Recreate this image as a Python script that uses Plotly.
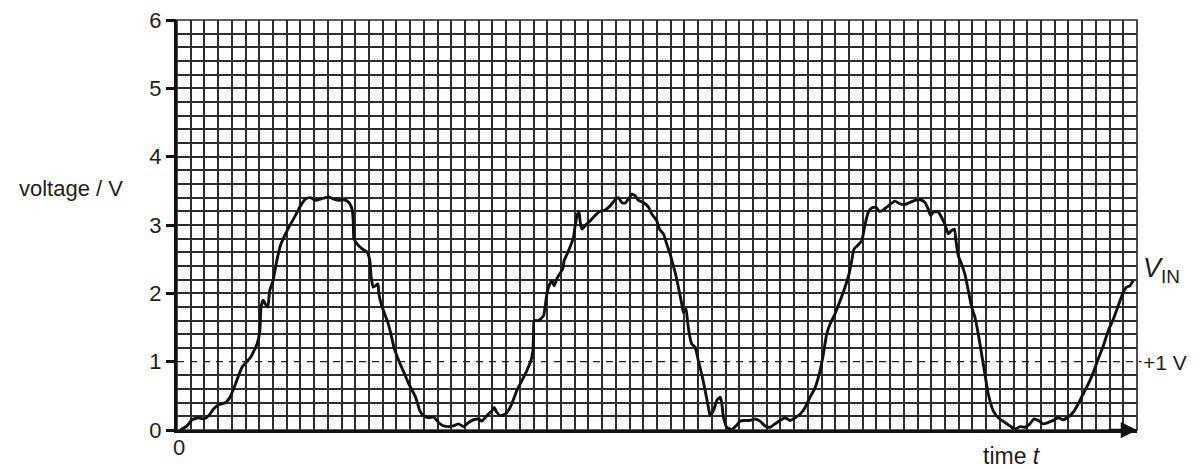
import plotly.graph_objects as go

# time in grid-square units (0..70), voltage in V
t = [0.24, 0.73, 1.09, 1.58, 1.95, 2.31, 2.68, 3.04, 3.53, 3.84, 4.26, 4.74, 5.35, 5.84, 6.03, 6.13, 6.28, 6.45, 6.62, 6.76,
     7.01, 7.25, 7.54, 7.91, 8.27, 8.64, 9.00, 9.37, 9.73, 10.10, 10.46, 10.83, 11.07, 11.44, 11.80, 12.17, 12.53, 12.77, 12.85, 12.90,
     13.14, 13.50, 13.87, 14.06, 14.16, 14.31, 14.48, 14.65, 14.72, 14.96, 15.33, 15.57, 15.82, 16.18, 16.55, 16.91, 17.40, 17.71,
     17.98, 18.34, 18.71, 19.07, 19.43, 19.80, 20.16, 20.53, 20.89, 21.26, 21.62, 21.99, 22.23, 22.59, 22.96, 23.13, 23.32, 23.56,
     23.93, 24.29, 24.54, 24.78, 25.14, 25.51, 25.80, 25.95, 26.00, 26.04, 26.36, 26.72, 26.84, 26.97, 27.09, 27.33, 27.50, 27.69,
     27.89, 28.13, 28.23, 28.54, 28.91, 29.03, 29.20, 29.32, 29.40, 29.52, 29.76, 30.12, 30.49, 30.85, 31.22, 31.58, 31.95, 32.19,
     32.43, 32.68, 32.92, 33.16, 33.40, 33.65, 34.01, 34.38, 34.62, 34.99, 35.18,
     35.47, 35.71, 35.95, 36.15, 36.32, 36.56, 36.81, 36.93, 37.12, 37.22, 37.36, 37.53, 37.78, 38.02, 38.26, 38.51, 38.75, 38.87,
     39.11, 39.36, 39.60, 39.72, 39.84, 40.09, 40.45, 40.77, 41.06, 41.42, 41.78, 42.15, 42.51, 42.88, 43.24, 43.61, 43.97, 44.34,
     44.70, 45.07, 45.43, 45.80, 46.16, 46.53, 46.89, 47.13, 47.37, 47.62, 47.98, 48.35, 48.71, 49.00, 49.20, 49.37, 49.68, 49.93,
     50.17, 50.41, 50.65, 50.97, 51.21, 51.50, 51.87,
     52.35, 52.72, 53.08, 53.45, 53.81, 54.18, 54.54, 54.78, 54.95, 55.15, 55.51, 55.75, 56.00, 56.24, 56.48, 56.68, 56.80, 56.97,
     57.21, 57.45, 57.70, 57.94, 58.18, 58.43, 58.67, 58.91, 59.15, 59.52, 59.89, 60.37, 60.74, 61.10, 61.46, 61.83, 62.19, 62.48,
     62.80, 63.16, 63.53, 63.89, 64.26, 64.62, 64.98, 65.35, 65.71, 66.08, 66.44, 66.81, 67.17, 67.54, 67.90, 68.27, 68.63, 68.99,
     69.24, 69.48, 69.73]

v_in = [0.00, 0.06, 0.15, 0.18, 0.16, 0.21, 0.31, 0.37, 0.40, 0.47, 0.67, 0.92, 1.06, 1.26, 1.43, 1.80, 1.90, 1.84, 1.80, 2.04,
        2.19, 2.45, 2.70, 2.87, 3.01, 3.14, 3.28, 3.38, 3.40, 3.36, 3.38, 3.40, 3.41, 3.38, 3.36, 3.37, 3.33, 3.23, 3.06, 2.80,
        2.72, 2.65, 2.60, 2.48, 2.23, 2.09, 2.11, 2.14, 1.99, 1.80, 1.60, 1.43, 1.21, 1.01, 0.84, 0.67, 0.48, 0.28,
        0.21, 0.18, 0.19, 0.11, 0.06, 0.05, 0.06, 0.09, 0.05, 0.11, 0.15, 0.16, 0.13, 0.21, 0.28, 0.33, 0.26, 0.21,
        0.23, 0.33, 0.45, 0.58, 0.72, 0.87, 1.01, 1.16, 1.40, 1.60, 1.60, 1.67, 1.80, 1.99, 2.09, 2.19, 2.11, 2.21,
        2.28, 2.36, 2.48, 2.62, 2.82, 2.99, 3.16, 3.19, 3.04, 2.94, 2.99, 3.06, 3.14, 3.20, 3.22, 3.28, 3.37, 3.40,
        3.33, 3.32, 3.38, 3.45, 3.43, 3.36, 3.33, 3.26, 3.16, 3.06, 2.94,
        2.87, 2.72, 2.58, 2.43, 2.31, 2.09, 1.84, 1.72, 1.77, 1.60, 1.40, 1.26, 1.21, 1.01, 0.82, 0.58, 0.33, 0.21,
        0.28, 0.43, 0.48, 0.40, 0.19, 0.04, 0.01, 0.06, 0.13, 0.14, 0.14, 0.16, 0.13, 0.06, 0.04, 0.09, 0.14, 0.18,
        0.14, 0.18, 0.23, 0.33, 0.48, 0.62, 0.87, 1.11, 1.40, 1.55, 1.70, 1.89, 2.09, 2.28, 2.48, 2.65, 2.71, 2.77,
        3.01, 3.19, 3.25, 3.26, 3.20, 3.22, 3.28,
        3.35, 3.31, 3.30, 3.33, 3.36, 3.37, 3.33, 3.23, 3.14, 3.19, 3.19, 3.11, 3.01, 2.87, 2.92, 2.94, 2.77, 2.55,
        2.43, 2.28, 2.04, 1.80, 1.65, 1.40, 1.11, 0.82, 0.53, 0.28, 0.18, 0.11, 0.06, 0.01, 0.05, 0.04, 0.09, 0.16,
        0.14, 0.09, 0.11, 0.14, 0.18, 0.15, 0.19, 0.26, 0.38, 0.53, 0.67, 0.84, 1.04, 1.23, 1.45, 1.62, 1.82, 2.01,
        2.09, 2.11, 2.19]

y_ticks = [0, 1, 2, 3, 4, 5, 6]
threshold = 1.0
# fine grid: every 0.2 V, except the +1 V level which is drawn dashed
grid_v = [round(k * 0.2, 1) for k in range(31) if round(k * 0.2, 1) != threshold]

FONT = "Liberation Sans, Arial, sans-serif"
GRID = "#2e2e2e"
TXT = "#1e1e1e"

fig = go.Figure()
fig.add_trace(go.Scatter(x=t, y=v_in, mode="lines",
                         line=dict(color="#111111", width=2.9, shape="spline", smoothing=0.5),
                         hoverinfo="skip", showlegend=False))
# carrier for the labelled voltage axis (no visible mark)
fig.add_trace(go.Scatter(x=[0], y=[0], yaxis="y2", mode="markers",
                         marker=dict(opacity=0, size=1), hoverinfo="skip", showlegend=False))

fig.update_layout(
    width=1195, height=461,
    margin=dict(l=169, r=66, t=12, b=39, autoexpand=False),
    paper_bgcolor="white", plot_bgcolor="white",
    font=dict(family=FONT, color=TXT),
    showlegend=False,
    xaxis=dict(range=[0, 70], dtick=1, tick0=0, showticklabels=False, ticks="",
               showgrid=True, gridcolor=GRID, gridwidth=1.7, zeroline=False, automargin=False,
               showline=True, linecolor="#111111", linewidth=3, fixedrange=True),
    yaxis=dict(range=[0, 6], tickmode="array", tickvals=grid_v, showticklabels=False, ticks="",
               showgrid=True, gridcolor=GRID, gridwidth=1.7, zeroline=False, automargin=False,
               showline=True, linecolor="#111111", linewidth=3, fixedrange=True),
    yaxis2=dict(range=[0, 6], overlaying="y", side="left", anchor="x",
                tickmode="array", tickvals=y_ticks, ticktext=[str(v) for v in y_ticks],
                ticks="outside", ticklen=10, tickwidth=2.5, tickcolor="#111111",
                tickfont=dict(size=22, family=FONT, color=TXT), ticklabeloverflow="allow",
                automargin=False,
                showgrid=False, zeroline=False, showline=False, fixedrange=True),
)

# top/right border of the grid
fig.add_shape(type="rect", xref="paper", yref="paper", x0=0, y0=0, x1=1, y1=1,
              line=dict(color=GRID, width=1.7), layer="below")
# +1 V dashed reference line
fig.add_shape(type="line", xref="paper", yref="y", x0=0, x1=1.005, y0=threshold, y1=threshold,
              line=dict(color="#222222", width=1.4, dash="7px,6px"))

# time axis arrow
fig.add_annotation(xref="paper", yref="paper", x=1.0, y=0, ax=-30, ay=0,
                   axref="pixel", ayref="pixel", text="", showarrow=True,
                   arrowhead=2, arrowsize=1.3, arrowwidth=2.5, arrowcolor="#111111")

fig.add_annotation(xref="paper", yref="paper", x=-0.167, y=0.590, xanchor="left", yanchor="middle",
                   text="voltage / V", showarrow=False, font=dict(size=22, family=FONT, color=TXT))
fig.add_annotation(xref="paper", yref="paper", x=0.002, y=-0.042, xanchor="center", yanchor="middle",
                   text="0", showarrow=False, font=dict(size=22, family=FONT, color=TXT))
fig.add_annotation(xref="paper", yref="paper", x=0.838, y=-0.063, xanchor="left", yanchor="middle",
                   text="time <i>t</i>", showarrow=False, font=dict(size=23, family=FONT, color=TXT))
fig.add_annotation(xref="paper", yref="paper", x=1.004, y=0.39, xanchor="left", yanchor="middle",
                   text="<i>V</i><sub>IN</sub>", showarrow=False, font=dict(size=27, family=FONT, color=TXT))
fig.add_annotation(xref="paper", yref="paper", x=1.004, y=0.165, xanchor="left", yanchor="middle",
                   text="+1 V", showarrow=False, font=dict(size=21, family=FONT, color=TXT))

fig.write_html("out.html")
